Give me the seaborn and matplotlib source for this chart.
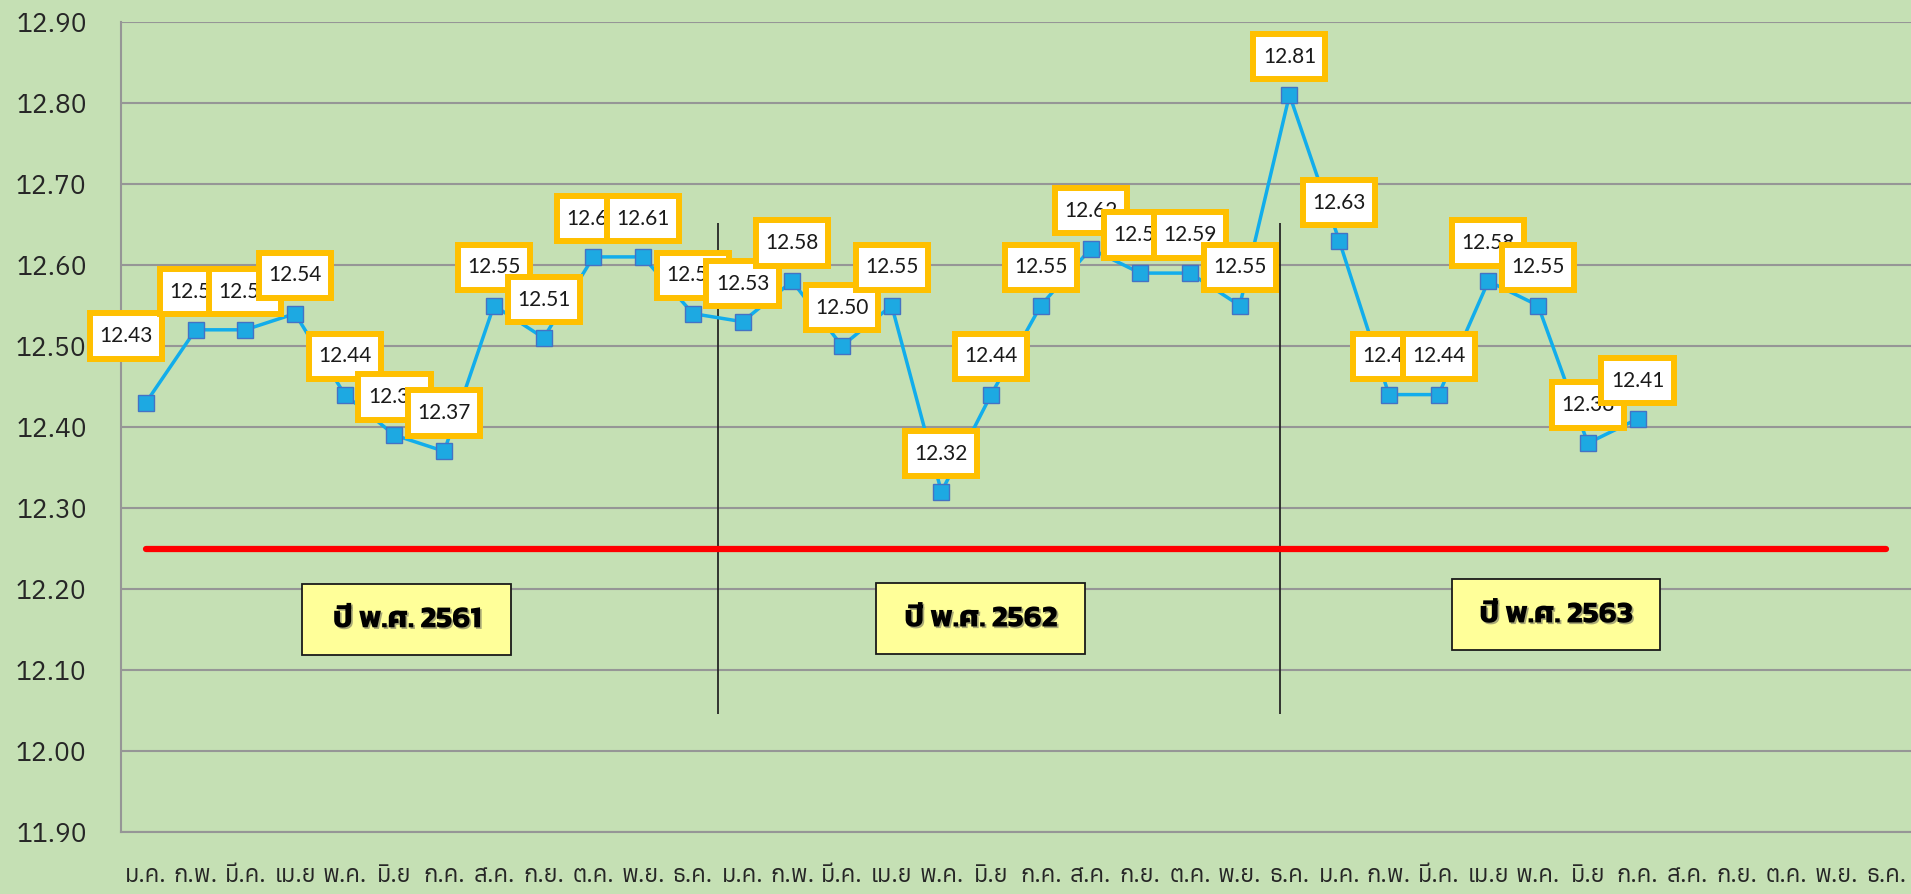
import matplotlib
matplotlib.use("Agg")
import matplotlib.pyplot as plt
import matplotlib.patheffects as pe
from matplotlib.patches import Rectangle
import numpy as np
import pandas as pd
import seaborn as sns

# month labels (Thai), three years
months = ["ม.ค.", "ก.พ.", "มี.ค.", "เม.ย", "พ.ค.", "มิ.ย",
          "ก.ค.", "ส.ค.", "ก.ย.", "ต.ค.", "พ.ย.", "ธ.ค."]
year_labels = ["ปี พ.ศ. 2561", "ปี พ.ศ. 2562", "ปี พ.ศ. 2563"]

values_2561 = [12.43, 12.52, 12.52, 12.54, 12.44, 12.39, 12.37, 12.55, 12.51, 12.61, 12.61, 12.54]
values_2562 = [12.53, 12.58, 12.50, 12.55, 12.32, 12.44, 12.55, 12.62, 12.59, 12.59, 12.55, 12.81]
values_2563 = [12.63, 12.44, 12.44, 12.58, 12.55, 12.38, 12.41]
baseline = 12.25
yticks = [11.90, 12.00, 12.10, 12.20, 12.30, 12.40, 12.50, 12.60, 12.70, 12.80, 12.90]

all_months = months * 3
values = values_2561 + values_2562 + values_2563
df = pd.DataFrame({"pos": np.arange(len(values)), "value": values})
df_base = pd.DataFrame({"pos": np.arange(len(all_months)), "value": baseline})

green = "#C5E0B4"
grid_c = "#969696"
sns.set_style("white", {"axes.facecolor": green, "figure.facecolor": green})
plt.rcParams["font.family"] = ["Anuphan", "DejaVu Sans"]

W, H = 1911, 894
fig = plt.figure(figsize=(W / 100, H / 100), dpi=100)
ax = fig.add_axes([121 / W, 62 / H, 1 - 121 / W, 810 / H])
ax.set_facecolor(green)

sns.lineplot(data=df_base, x="pos", y="value", color="#FF0000", lw=4.5, ax=ax, zorder=3)
sns.lineplot(data=df, x="pos", y="value", color="#12ADEB", lw=2.5, marker="s", markersize=11,
             markerfacecolor="#1DA9E2", markeredgecolor="#4472C4", markeredgewidth=1.0,
             ax=ax, zorder=4)

# year separators
ax.vlines([11.5, 22.8], 12.046, 12.652, color="#262626", lw=1.3, zorder=2)

# data labels
offsets = {0: (-14, 48)}
for i, v in enumerate(values):
    ax.annotate(f"{v:.2f}", (i, v), xytext=offsets.get(i, (0, 27.5)), textcoords="offset points",
                ha="center", va="center", fontsize=15, family=["Lato", "DejaVu Sans"], color="#1a1a1a",
                bbox=dict(boxstyle="square,pad=0.45", fc="white", ec="#FFC000", lw=4.3,
                          mutation_aspect=1.35),
                zorder=6)

# year boxes
box_x = [5.25, 16.79, 28.36]
box_y = [12.162, 12.163, 12.168]
for bx, by, lab in zip(box_x, box_y, year_labels):
    ax.add_patch(Rectangle((bx - 2.1, by - 0.0438), 4.2, 0.0877, fc="#FFFF99", ec="#1a1a1a",
                           lw=1.3, zorder=5))
    ax.text(bx, by, lab, ha="center", va="center", fontsize=22, fontweight="bold",
            family=["Kanit", "DejaVu Sans"], color="black", zorder=6,
            path_effects=[pe.withSimplePatchShadow(offset=(1.2, -1.2), shadow_rgbFace="#555555", alpha=0.5)])

ax.set_xlim(-0.5, len(all_months) - 0.5)
ax.set_ylim(11.90, 12.90)
ax.set_yticks(yticks)
ax.set_yticklabels([f"{t:.2f}" for t in yticks])
ax.yaxis.grid(True, color=grid_c, lw=1.5)
ax.set_axisbelow(True)

ax.set_xticks(np.arange(len(all_months) + 1) - 0.5)
ax.set_xticklabels([])
ax.set_xticks(np.arange(len(all_months)), minor=True)
ax.set_xticklabels(all_months, minor=True)
ax.tick_params(axis="x", which="major", length=8, width=1.2, color=grid_c, direction="out")
ax.tick_params(axis="x", which="minor", length=0, pad=23, labelsize=17, labelcolor="#262626")
ax.tick_params(axis="y", length=8.6, width=1.2, color=grid_c, pad=16, labelsize=19, labelcolor="#262626")

for s in ["top", "right"]:
    ax.spines[s].set_visible(False)
for s in ["left", "bottom"]:
    ax.spines[s].set_color(grid_c)
    ax.spines[s].set_linewidth(1.5)

ax.set_xlabel("")
ax.set_ylabel("")

fig.savefig("out.png", dpi=100, facecolor=green)
